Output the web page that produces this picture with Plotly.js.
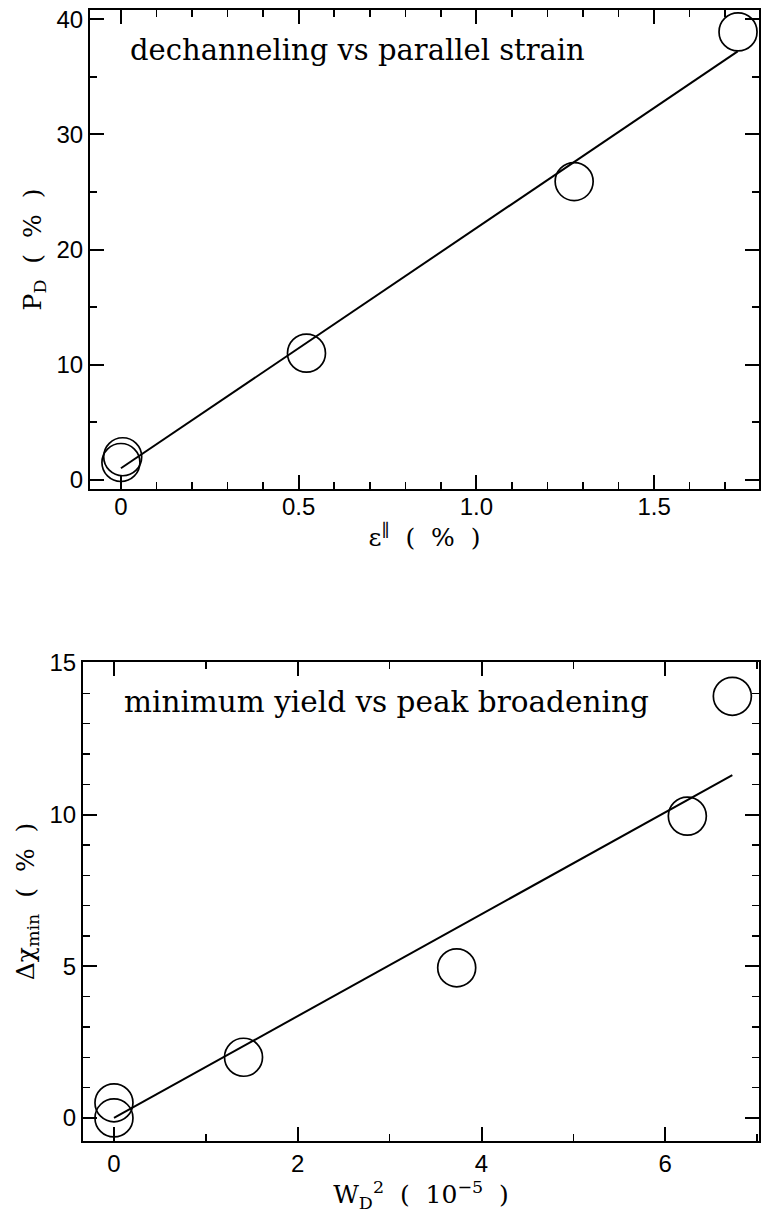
<!DOCTYPE html>
<html>
<head>
<meta charset="utf-8">
<script src="https://cdn.plot.ly/plotly-3.0.1.min.js"></script>
<style>html,body{margin:0;padding:0;background:#fff;}</style>
</head>
<body>
<div id="chart" style="width:761px;height:1214px;"></div>
<script>
// ---- Top panel: dechanneling vs parallel strain ----
const strainX = [0, 0.005, 0.522, 1.275, 1.736];
const dechanY = [1.5, 2.0, 11.0, 25.9, 38.9];
const fit1X = [0, 1.735];
const fit1Y = [1.0, 37.2];
const top_xTickVals = [0, 0.5, 1.0, 1.5];
const top_xTickText = ['0', '0.5', '1.0', '1.5'];
const top_yTickVals = [0, 10, 20, 30, 40];
const top_yTickText = ['0', '10', '20', '30', '40'];

// ---- Bottom panel: minimum yield vs peak broadening ----
const broadX = [0, 0, 1.41, 3.73, 6.24, 6.73];
const yieldY = [0, 0.5, 2.0, 4.95, 9.95, 13.9];
const fit2X = [0, 6.73];
const fit2Y = [0, 11.3];
const bot_xTickVals = [0, 2, 4, 6];
const bot_xTickText = ['0', '2', '4', '6'];
const bot_yTickVals = [0, 5, 10, 15];
const bot_yTickText = ['0', '5', '10', '15'];

const serif = 'DejaVu Serif, serif';
const sans = 'Liberation Sans, Arial, sans-serif';
const S = '\u00a0';

const marker = {symbol: 'circle-open', size: 38, color: '#000', line: {width: 1.7, color: '#000'}};

const traces = [
  {x: fit1X, y: fit1Y, mode: 'lines', line: {color: '#000', width: 2}, xaxis: 'x', yaxis: 'y', showlegend: false, hoverinfo: 'skip'},
  {x: strainX, y: dechanY, mode: 'markers', marker: marker, xaxis: 'x', yaxis: 'y', showlegend: false, cliponaxis: false},
  {x: fit2X, y: fit2Y, mode: 'lines', line: {color: '#000', width: 2}, xaxis: 'x2', yaxis: 'y2', showlegend: false, hoverinfo: 'skip'},
  {x: broadX, y: yieldY, mode: 'markers', marker: marker, xaxis: 'x2', yaxis: 'y2', showlegend: false, cliponaxis: false}
];

function axisBase(extra) {
  return Object.assign({
    showline: true, linewidth: 2, linecolor: '#000', mirror: 'ticks',
    ticks: 'inside', ticklen: 14, tickwidth: 2, tickcolor: '#000',
    showgrid: false, zeroline: false, automargin: false,
    tickfont: {family: sans, size: 24, color: '#000'},
    tickmode: 'array'
  }, extra);
}

const titleFont = {family: serif, size: 25, color: '#000'};
const H = 1214, W = 761;
const layout = {
  width: W, height: H,
  margin: {l: 0, r: 0, t: 0, b: 0},
  paper_bgcolor: '#fff', plot_bgcolor: '#fff',
  xaxis: axisBase({
    domain: [90 / W, 759 / W], range: [-0.087, 1.795], anchor: 'y',
    tickvals: top_xTickVals, ticktext: top_xTickText, ticklabelstandoff: -5,
    minor: {dtick: 0.1, tick0: 0, ticks: 'inside', ticklen: 7, tickwidth: 1.5, tickcolor: '#000'},
    title: {text: 'ε<sup>∥</sup>' + S + S + '(' + S + S + '%' + S + S + ')', font: titleFont, standoff: 0}
  }),
  yaxis: axisBase({
    domain: [(H - 489) / H, (H - 10) / H], range: [-0.8, 40.8], anchor: 'x',
    tickvals: top_yTickVals, ticktext: top_yTickText,
    minor: {dtick: 5, tick0: 0, ticks: 'inside', ticklen: 7, tickwidth: 1.5, tickcolor: '#000'},
    title: {text: 'P<sub>D</sub>' + S + S + '(' + S + S + '%' + S + S + ')', font: titleFont, standoff: 8}
  }),
  xaxis2: axisBase({
    domain: [83 / W, 759 / W], range: [-0.337, 7.02], anchor: 'y2',
    tickvals: bot_xTickVals, ticktext: bot_xTickText,
    minor: {dtick: 1, tick0: 0, ticks: 'inside', ticklen: 7, tickwidth: 1.5, tickcolor: '#000'},
    title: {text: 'W<sub>D</sub><sup>2</sup>' + S + S + '(' + S + S + '10<sup>−5</sup>' + S + S + ')', font: titleFont, standoff: 4}
  }),
  yaxis2: axisBase({
    domain: [(H - 1141) / H, (H - 662) / H], range: [-0.76, 15.03], anchor: 'x2',
    tickvals: bot_yTickVals, ticktext: bot_yTickText,
    minor: {dtick: 1, tick0: 0, ticks: 'inside', ticklen: 7, tickwidth: 1.5, tickcolor: '#000'},
    title: {text: 'Δχ<sub>min</sub>' + S + S + '(' + S + S + '%' + S + S + ')', font: titleFont, standoff: 8}
  }),
  annotations: [
    {text: 'dechanneling vs parallel strain', xref: 'x domain', yref: 'y domain',
     x: 0.057, y: 0.916, xanchor: 'left', yanchor: 'middle', showarrow: false,
     font: {family: serif, size: 29, color: '#000'}},
    {text: 'minimum yield vs peak broadening', xref: 'x2 domain', yref: 'y2 domain',
     x: 0.0576, y: 0.9165, xanchor: 'left', yanchor: 'middle', showarrow: false,
     font: {family: serif, size: 29.5, color: '#000'}}
  ]
};

Plotly.newPlot('chart', traces, layout, {staticPlot: true, displayModeBar: false});
</script>
</body>
</html>
